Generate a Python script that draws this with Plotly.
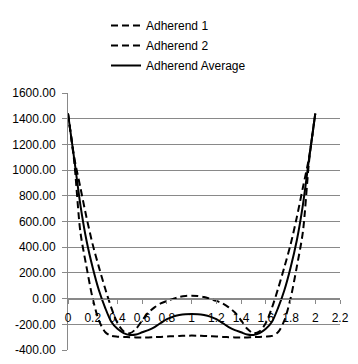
import plotly.graph_objects as go

x_vals = [0.0, 0.05, 0.1, 0.15, 0.2, 0.25, 0.3, 0.35, 0.4, 0.45, 0.5, 0.55, 0.6, 0.65, 0.7, 0.75, 0.8, 0.85, 0.9, 0.95, 1.0,
          1.05, 1.1, 1.15, 1.2, 1.25, 1.3, 1.35, 1.4, 1.45, 1.5, 1.55, 1.6, 1.65, 1.7, 1.75, 1.8, 1.85, 1.9, 1.95, 2.0]

adherend_1 = [1440, 1100, 865, 630, 420, 245, 80, -70, -190, -255, -270, -235, -170, -108, -68, -38, -18, -2, 12, 20, 23,
              20, 12, -2, -18, -38, -68, -108, -170, -235, -270, -255, -190, -70, 80, 245, 420, 630, 865, 1100, 1440]

adherend_2 = [1440, 1070, 520, 245, 0, -170, -260, -290, -296, -298, -300, -302, -303, -302, -300, -298, -295, -293, -291, -289, -288,
              -289, -291, -293, -295, -298, -300, -302, -303, -302, -300, -298, -296, -290, -260, -170, 0, 245, 520, 1070, 1440]

adherend_avg = [1440, 1090, 730, 450, 240, 65, -70, -180, -235, -268, -283, -280, -262, -245, -222, -190, -160, -140, -128, -121, -119,
                -121, -128, -140, -160, -190, -222, -245, -262, -280, -283, -268, -235, -180, -70, 65, 240, 450, 730, 1090, 1440]

series_names = ["Adherend 1", "Adherend 2", "Adherend Average"]

y_tick_vals = [-400, -200, 0, 200, 400, 600, 800, 1000, 1200, 1400, 1600]
y_tick_labels = ["-400.00", "-200.00", "0.00", "200.00", "400.00", "600.00", "800.00",
                 "1000.00", "1200.00", "1400.00", "1600.00"]

FONT = "Liberation Sans, Arial, sans-serif"
GRID = "#898989"

fig = go.Figure()
styles = [dict(dash="7px,4px"), dict(dash="7px,4px"), dict(dash="solid")]
for i, (name, ys, st) in enumerate(zip(series_names, [adherend_1, adherend_2, adherend_avg], styles)):
    fig.add_trace(go.Scatter(
        x=x_vals, y=ys, name=name, mode="lines", legendgroup=f"g{i}",
        line=dict(color="black", width=2, shape="spline", smoothing=0.8, **st),
    ))

fig.update_layout(
    template="none",
    width=358, height=364,
    margin=dict(l=68, r=18, t=93, b=14, autoexpand=False),
    paper_bgcolor="white", plot_bgcolor="white",
    font=dict(family=FONT, size=12, color="black"),
    showlegend=True,
    legend=dict(xref="container", yref="container", x=106 / 358, xanchor="left",
                y=1 - 11 / 364, yanchor="top",
                font=dict(family=FONT, size=12, color="black"),
                bgcolor="rgba(0,0,0,0)", tracegroupgap=1),
    xaxis=dict(range=[0, 2.2], tick0=0, dtick=0.2, showgrid=False, zeroline=False,
               showline=True, linecolor=GRID, linewidth=1,
               ticks="outside", ticklen=4, tickcolor=GRID, ticklabelstandoff=4,
               anchor="free", position=0.2, automargin=False,
               tickfont=dict(family=FONT, size=12, color="black")),
    yaxis=dict(range=[-400, 1600], tickvals=y_tick_vals, ticktext=y_tick_labels,
               showgrid=True, gridcolor=GRID, gridwidth=1, zeroline=False,
               showline=True, linecolor=GRID, linewidth=1,
               ticks="outside", ticklen=5, tickcolor=GRID, ticklabelstandoff=4,
               automargin=False,
               tickfont=dict(family=FONT, size=12, color="black")),
)

fig.write_html("out.html", config={"displayModeBar": False},
               post_script="document.body.style.margin='0';document.body.style.overflow='hidden';")
